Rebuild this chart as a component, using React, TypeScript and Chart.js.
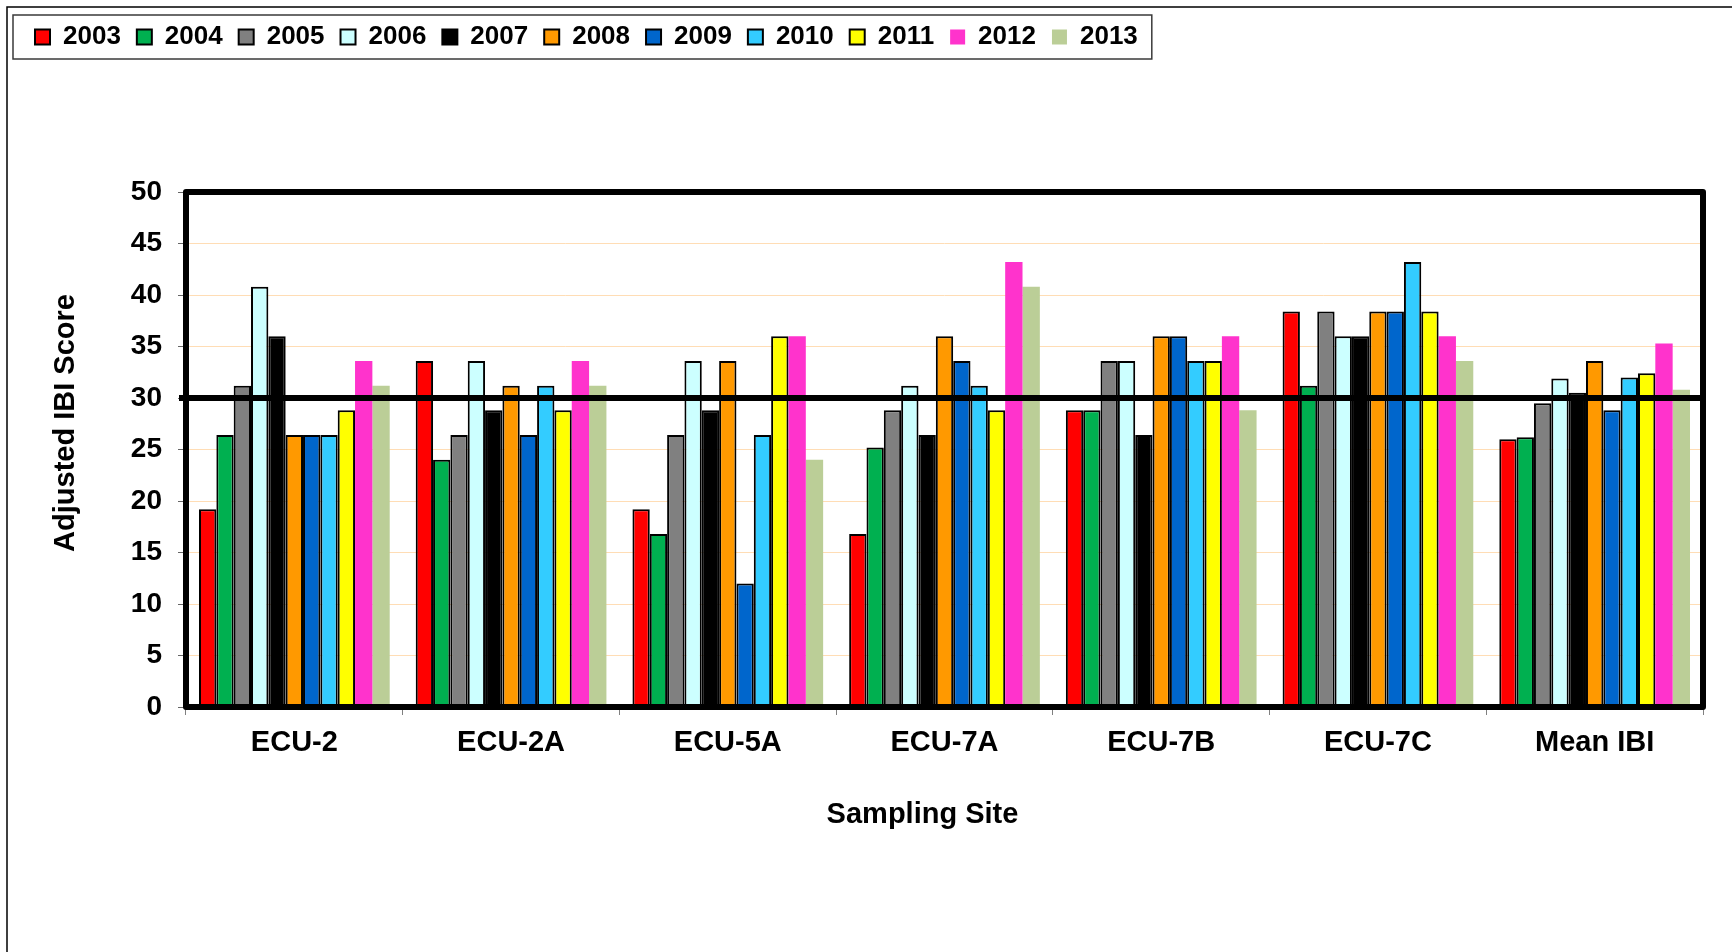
import React, { useEffect, useRef } from 'react';
import { Chart, registerables } from 'chart.js';

Chart.register(...registerables);

// ---- data ----
const sites = ['ECU-2', 'ECU-2A', 'ECU-5A', 'ECU-7A', 'ECU-7B', 'ECU-7C', 'Mean IBI'];
const years = ['2003', '2004', '2005', '2006', '2007', '2008', '2009', '2010', '2011', '2012', '2013'];

const y2003 = [19.2, 33.6, 19.2, 16.8, 28.8, 38.4, 26.0];
const y2004 = [26.4, 24.0, 16.8, 25.2, 28.8, 31.2, 26.2];
const y2005 = [31.2, 26.4, 26.4, 28.8, 33.6, 38.4, 29.5];
const y2006 = [40.8, 33.6, 33.6, 31.2, 33.6, 36.0, 31.9];
const y2007 = [36.0, 28.8, 28.8, 26.4, 26.4, 36.0, 30.5];
const y2008 = [26.4, 31.2, 33.6, 36.0, 36.0, 38.4, 33.6];
const y2009 = [26.4, 26.4, 12.0, 33.6, 36.0, 38.4, 28.8];
const y2010 = [26.4, 31.2, 26.4, 31.2, 33.6, 43.2, 32.0];
const y2011 = [28.8, 28.8, 36.0, 28.8, 33.6, 38.4, 32.4];
const y2012 = [33.6, 33.6, 36.0, 43.2, 36.0, 36.0, 35.3];
const y2013 = [31.2, 31.2, 24.0, 40.8, 28.8, 33.6, 30.8];

const seriesValues = [y2003, y2004, y2005, y2006, y2007, y2008, y2009, y2010, y2011, y2012, y2013];

const seriesColors = [
  '#FF0000', '#00B050', '#808080', '#CCFFFF', '#000000', '#FF9900',
  '#0066CC', '#33CCFF', '#FFFF00', '#FF33CC', '#BBCE97',
];
const seriesOutlined = [true, true, true, true, true, true, true, true, true, false, false];

const thresholdValue = 30;
const yMin = 0;
const yMax = 50;
const yStep = 5;

const xTitle = 'Sampling Site';
const yTitle = 'Adjusted IBI Score';

const FONT = "'Liberation Sans', Arial, Helvetica, sans-serif";

const decorPlugin = {
  id: 'decor',
  afterDatasetsDraw(chart: any) {
    const { ctx, chartArea, scales } = chart;
    const y = scales.y.getPixelForValue(thresholdValue);
    ctx.save();
    // threshold line
    ctx.strokeStyle = '#000';
    ctx.lineWidth = 6;
    ctx.beginPath();
    ctx.moveTo(chartArea.left - 7, y);
    ctx.lineTo(chartArea.right, y);
    ctx.stroke();
    // frame
    ctx.lineWidth = 6;
    ctx.lineJoin = 'round';
    ctx.strokeRect(chartArea.left, chartArea.top, chartArea.right - chartArea.left, chartArea.bottom - chartArea.top);
    ctx.restore();
  },
  afterDraw(chart: any) {
    const { ctx, chartArea } = chart;
    ctx.save();
    // outer frame (top & left edges visible)
    ctx.strokeStyle = '#000';
    ctx.lineWidth = 1.5;
    ctx.beginPath();
    ctx.moveTo(chart.width, 7);
    ctx.lineTo(7, 7);
    ctx.lineTo(7, chart.height);
    ctx.stroke();

    // legend frame
    const lg = chart.legend;
    if (lg && lg.legendHitBoxes && lg.legendHitBoxes.length) {
      const hbs = lg.legendHitBoxes;
      const first = hbs[0];
      const last = hbs[hbs.length - 1];
      const cy = first.top + first.height / 2;
      const x0 = first.left - 22;
      const x1 = last.left + last.width + 14;
      ctx.strokeStyle = '#3a3a3a';
      ctx.lineWidth = 1.5;
      ctx.strokeRect(x0, cy - 22, x1 - x0, 44);
    }

    // axis titles
    ctx.fillStyle = '#000';
    ctx.font = `bold 29px ${FONT}`;
    ctx.textAlign = 'center';
    ctx.textBaseline = 'middle';
    ctx.fillText(xTitle, (chartArea.left + chartArea.right) / 2 - 22, chartArea.bottom + 108);
    ctx.translate(chartArea.left - 120, chartArea.top + 231);
    ctx.rotate(-Math.PI / 2);
    ctx.fillText(yTitle, 0, 0);
    ctx.restore();
  },
};

export default function App() {
  const canvasRef = useRef<HTMLCanvasElement | null>(null);

  useEffect(() => {
    const canvas = canvasRef.current;
    if (!canvas) return;
    const chart = new Chart(canvas, {
      type: 'bar',
      data: {
        labels: sites,
        datasets: years.map((yr, i) => ({
          label: yr,
          data: seriesValues[i],
          backgroundColor: seriesColors[i],
          borderColor: seriesOutlined[i] ? '#000' : seriesColors[i],
          borderWidth: seriesOutlined[i] ? 2 : 0,
          categoryPercentage: 0.88,
          barPercentage: 1.0,
        })),
      },
      options: {
        responsive: false,
        animation: false,
        devicePixelRatio: 1,
        layout: { padding: { left: 19, right: 29, top: 8, bottom: 0 } },
        plugins: {
          legend: {
            display: true,
            position: 'top',
            align: 'start',
            labels: {
              boxWidth: 15,
              boxHeight: 15,
              padding: 16,
              color: '#000',
              font: { family: FONT, size: 26, weight: 'bold' },
            },
          },
          title: {
            display: true,
            text: '',
            weight: 500,
            font: { size: 10, lineHeight: 1 },
            padding: { top: 0, bottom: 122 },
          },
          tooltip: { enabled: false },
        },
        scales: {
          x: {
            type: 'category',
            offset: true,
            border: { display: false },
            grid: {
              display: true,
              offset: true,
              drawOnChartArea: false,
              drawTicks: true,
              tickLength: 8,
              tickColor: '#808080',
              tickWidth: 1,
            },
            ticks: {
              color: '#000',
              padding: 11,
              maxRotation: 0,
              font: { family: FONT, size: 29, weight: 'bold' },
            },
            afterFit(scale: any) {
              scale.height = 245;
            },
          },
          y: {
            min: yMin,
            max: yMax,
            border: { display: false },
            grid: {
              color: '#FFDDB5',
              lineWidth: 1,
              drawTicks: true,
              tickLength: 8,
              tickColor: '#666',
              tickWidth: 1,
            },
            ticks: {
              stepSize: yStep,
              color: '#000',
              padding: 16,
              font: { family: FONT, size: 28, weight: 'bold' },
            },
            afterFit(scale: any) {
              scale.width = 167;
            },
          },
        },
      },
      plugins: [decorPlugin],
    } as any);
    return () => chart.destroy();
  }, []);

  return (
    <div style={{ position: 'fixed', left: 0, top: 0, width: 1732, height: 952, background: '#fff' }}>
      <canvas ref={canvasRef} width={1732} height={952} style={{ display: 'block' }} />
    </div>
  );
}
